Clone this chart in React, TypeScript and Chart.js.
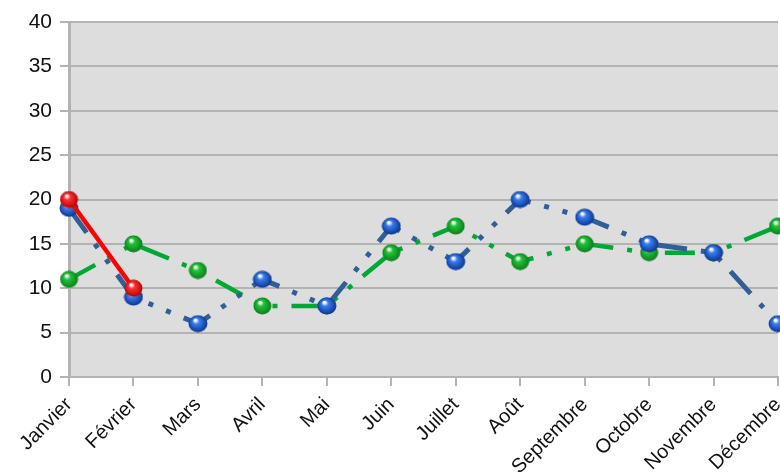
import React, { useEffect, useRef } from "react";
import { Chart, registerables, Plugin } from "chart.js";

Chart.register(...registerables);

const months = [
  "Janvier",
  "Février",
  "Mars",
  "Avril",
  "Mai",
  "Juin",
  "Juillet",
  "Août",
  "Septembre",
  "Octobre",
  "Novembre",
  "Décembre",
];
const redValues = [20, 10, null, null, null, null, null, null, null, null, null, null];
const blueValues = [19, 9, 6, 11, 8, 17, 13, 20, 18, 15, 14, 6];
const greenValues = [11, 15, 12, 8, 8, 14, 17, 13, 15, 14, 14, 17];
const yTicks = [0, 5, 10, 15, 20, 25, 30, 35, 40];

// little shaded ball used as point marker
function makeSphere(base: string, dark: string, w = 19, h = 18): HTMLCanvasElement {
  const c = document.createElement("canvas");
  c.width = w;
  c.height = h;
  const g = c.getContext("2d")!;
  const r = h / 2;
  g.save();
  g.scale(w / h, 1);
  const grad = g.createRadialGradient(r * 0.75, r * 0.6, 1, r, r, r);
  grad.addColorStop(0, "#ffffff");
  grad.addColorStop(0.25, base);
  grad.addColorStop(1, dark);
  g.fillStyle = grad;
  g.beginPath();
  g.arc(r, r, r - 0.5, 0, Math.PI * 2);
  g.fill();
  g.restore();
  return c;
}

const plotBackground: Plugin = {
  id: "plotBackground",
  beforeDraw(chart) {
    const { ctx, chartArea } = chart;
    ctx.save();
    ctx.fillStyle = "#dddddd";
    ctx.fillRect(
      chartArea.left,
      chartArea.top,
      chartArea.right - chartArea.left,
      chartArea.bottom - chartArea.top
    );
    ctx.restore();
  },
};

const App: React.FC = () => {
  const canvasRef = useRef<HTMLCanvasElement | null>(null);

  useEffect(() => {
    document.body.style.margin = "0";
    if (!canvasRef.current) return;
    const ctx = canvasRef.current.getContext("2d");
    if (!ctx) return;

    const redBall = makeSphere("#ff3333", "#b00000");
    const blueBall = makeSphere("#3a7ff0", "#0a2f8c", 20, 18);
    const greenBall = makeSphere("#22c43a", "#0a7a1a", 19, 18);
    const dashDotDot = [30, 14, 5, 14, 5, 14];

    const chart = new Chart(ctx, {
      type: "line",
      data: {
        labels: months,
        datasets: [
          {
            label: "Série 3",
            data: greenValues,
            borderColor: "#00a933",
            borderWidth: 4.5,
            borderDash: dashDotDot,
            pointStyle: greenBall,
            tension: 0,
            clip: false,
            order: 3,
          },
          {
            label: "Série 2",
            data: blueValues,
            borderColor: "#2f5f96",
            borderWidth: 5,
            borderDash: dashDotDot,
            pointStyle: blueBall,
            tension: 0,
            clip: false,
            order: 2,
          },
          {
            label: "Série 1",
            data: redValues,
            borderColor: "#ff0000",
            borderWidth: 4.5,
            pointStyle: redBall,
            tension: 0,
            clip: false,
            order: 1,
          },
        ],
      },
      options: {
        animation: false,
        responsive: false,
        layout: { padding: { top: 22, right: 0, left: 0, bottom: 0 } },
        plugins: {
          legend: { display: false },
          tooltip: { enabled: false },
        },
        scales: {
          x: {
            offset: false,
            grid: {
              color: "#b3b3b3",
              lineWidth: 2,
              tickLength: 9,
              drawOnChartArea: false,
            },
            border: { color: "#b3b3b3", width: 2 },
            ticks: {
              color: "#111111",
              font: { family: "Liberation Sans", size: 20 },
              minRotation: 45,
              maxRotation: 45,
              autoSkip: false,
              padding: 7,
            },
            afterFit: (scale) => {
              scale.height = 95;
              scale.paddingLeft = 0;
              scale.paddingRight = 0;
            },
          },
          y: {
            min: 0,
            max: 40,
            afterBuildTicks: (scale) => {
              scale.ticks = yTicks.map((v) => ({ value: v }));
            },
            grid: {
              color: "#b3b3b3",
              lineWidth: 2,
              tickLength: 9,
            },
            border: { color: "#b3b3b3", width: 3 },
            ticks: {
              color: "#111111",
              font: { family: "Liberation Sans", size: 21 },
              padding: 8,
            },
            afterFit: (scale) => {
              scale.width = 69;
              scale.paddingTop = 0;
              scale.paddingBottom = 0;
            },
          },
        },
      },
      plugins: [plotBackground],
    });

    return () => {
      chart.destroy();
    };
  }, []);

  return (
    <div style={{ width: 780, height: 472, overflow: "hidden", background: "#ffffff" }}>
      <canvas ref={canvasRef} width={787} height={472} />
    </div>
  );
};

export default App;
